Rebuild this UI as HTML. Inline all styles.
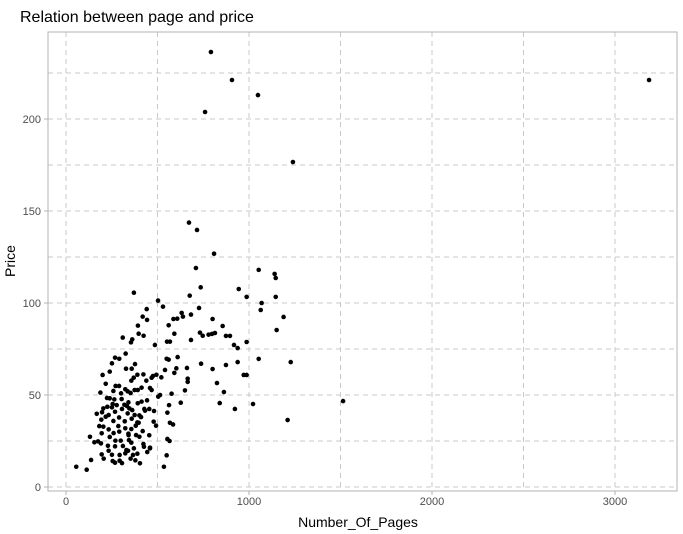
<!DOCTYPE html>
<html><head><meta charset="utf-8"><style>
body{margin:0;background:#fff;}
svg{display:block;font-family:"Liberation Sans",sans-serif;}
</style></head><body>
<svg id="chart" width="683" height="534">
<text x="20" y="22" font-size="16" fill="#000">Relation between page and price</text>
<g id="grid"></g>
<rect x="48" y="32" width="629" height="459" fill="none" stroke="#b3b3b3" stroke-width="1"/>
<g id="axes"></g>
<g id="points"></g>
<text x="358" y="527" font-size="14" text-anchor="middle" fill="#000">Number_Of_Pages</text>
<text transform="translate(15,261) rotate(-90)" font-size="14" text-anchor="middle" fill="#000">Price</text>
</svg>
<script>
const xTicks=[0,1000,2000,3000];
const yTicks=[0,50,100,150,200];
const pages=[371,503,530,676,736,727,441,419,443,632,608,587,639,683,393,561,397,424,592,310,362,355,732,747,779,683,552,568,486,326,268,291,251,377,561,550,610,738,661,239,328,359,200,390,423,541,603,592,475,494,468,370,357,439,217,521,665,665,271,290,459,468,413,259,324,337,375,392,353,188,301,650,514,504,577,224,239,264,304,341,443,255,277,319,333,392,413,627,204,226,251,306,346,362,428,455,563,168,197,233,268,337,375,401,432,481,193,217,290,359,390,410,554,259,321,479,492,568,585,182,204,233,286,324,357,397,381,195,260,291,341,383,419,455,131,155,175,191,239,270,299,344,357,401,342,554,566,229,268,311,330,339,371,423,426,459,195,206,233,251,293,324,366,390,444,459,550,137,255,268,293,353,379,404,306,56,113,535,
672,716,809,710,1053,1140,1146,801,856,798,814,874,896,987,918,938,944,987,1146,1069,1064,1189,1151,1053,1228,801,874,938,825,971,987,863,840,1022,923,1211,792,907,760,1049,1240,3186,1514];
const prices=[105.6,101.3,98.0,104.0,108.5,97.3,96.7,92.6,90.8,94.6,91.5,91.3,92.6,93.7,87.7,87.9,83.3,82.2,83.3,81.2,80.2,78.6,83.9,82.2,82.8,79.9,79.0,79.0,77.2,72.5,70.3,69.7,67.2,66.8,69.2,69.7,70.6,67.0,64.7,62.7,64.3,64.3,60.9,61.0,61.2,63.6,64.5,62.0,60.3,61.0,59.4,59.4,57.8,57.8,56.1,59.6,58.9,57.1,54.9,54.9,53.8,52.7,54.0,52.2,53.1,52.0,52.7,52.7,51.1,51.3,50.9,52.5,50.0,49.1,50.7,48.4,48.2,47.6,47.8,46.0,47.1,45.1,44.5,44.7,44.0,45.5,46.4,45.8,42.7,43.6,43.3,42.4,42.7,41.8,42.4,42.4,44.5,39.8,40.6,39.1,40.9,40.0,39.1,38.9,41.5,41.3,36.6,38.2,37.8,37.1,35.1,38.0,40.4,35.9,35.7,35.5,33.3,34.9,34.0,33.1,32.8,31.3,33.1,31.9,31.5,34.9,33.3,29.2,29.3,30.1,29.0,28.2,30.4,28.1,27.3,24.3,24.8,23.7,27.2,25.2,25.2,25.5,24.1,27.3,28.2,26.1,25.0,22.4,22.1,22.3,20.1,19.7,21.0,23.4,21.9,21.4,17.7,15.4,19.7,17.5,17.4,18.3,17.4,18.1,19.0,21.0,17.2,14.7,14.1,13.2,14.3,15.4,14.5,12.9,13.0,11.0,9.4,11.0,
143.7,139.7,126.8,119.0,118.0,115.8,113.6,91.3,87.5,83.2,83.7,82.1,82.1,78.8,77.2,75.5,107.6,103.3,103.3,100.0,96.2,92.4,85.3,69.6,67.9,64.1,66.3,67.9,56.5,60.9,60.9,51.6,45.6,45.1,42.4,36.4,236.4,221.2,203.8,213.0,176.6,221.2,46.7];
const NS='http://www.w3.org/2000/svg';
const L=48,R=677,T=32,B=491;
function xs(v){return 66+v*0.183;}
function ys(v){return 487-v*1.84;}
function mk(tag,attrs,parent){const e=document.createElementNS(NS,tag);for(const k in attrs)e.setAttribute(k,attrs[k]);parent.appendChild(e);return e;}
const grid=document.getElementById('grid'),axes=document.getElementById('axes'),pts=document.getElementById('points');
for(let v=0;v<=3000;v+=500){const x=xs(v);const g=mk('line',{x1:x,x2:x,y1:T,y2:B,stroke:'#c8c8c8','stroke-width':1,'stroke-dasharray':'5,4'},grid);

}
for(let v=0;v<=225;v+=25){const y=ys(v);if(y<T)continue;const g=mk('line',{x1:L,x2:R,y1:y,y2:y,stroke:'#c8c8c8','stroke-width':1,'stroke-dasharray':'5,4'},grid);

}
xTicks.forEach(v=>{const x=xs(v);
const t=mk('line',{x1:x,x2:x,y1:B,y2:B+4,stroke:'#b3b3b3'},axes);


const l=mk('text',{x:x,y:B+14,'font-size':11,'text-anchor':'middle',fill:'#4d4d4d'},axes);l.textContent=v;

});
yTicks.forEach(v=>{const y=ys(v);
const t=mk('line',{x1:L-4,x2:L,y1:y,y2:y,stroke:'#b3b3b3'},axes);


const l=mk('text',{x:L-7,y:y+4,'font-size':11,'text-anchor':'end',fill:'#4d4d4d'},axes);l.textContent=v;

});
pages.forEach((p,i)=>{const c=mk('circle',{cx:xs(p),cy:ys(prices[i]),r:2.3,fill:'#000'},pts);

});
</script>
</body></html>
